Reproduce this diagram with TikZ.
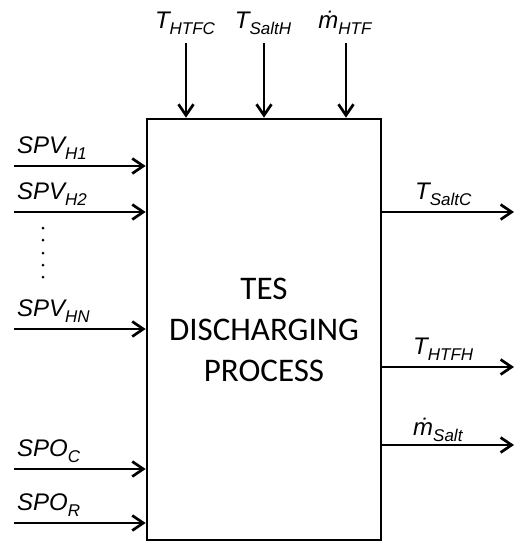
\documentclass[tikz,border=0pt]{standalone}
\usepackage{fontspec}
\setmainfont{Liberation Sans}
\newfontfamily\calib{Carlito}
\usetikzlibrary{arrows.meta}
\newcommand\lbl[2]{\fontsize{24}{24}\selectfont\textit{#1\raisebox{-0.28em}{\fontsize{17}{17}\selectfont #2}}}
\tikzset{
  arr/.style={line width=2.7pt,-{Straight Barb[length=11pt,width=15pt,line width=2.7pt]}},
  lab/.style={inner sep=0pt,anchor=base west},
  toplab/.style={inner sep=0pt,anchor=base},
  dotmark/.style={circle,fill=black,inner sep=0pt,minimum size=3pt}
}
\begin{document}
\begin{tikzpicture}[x=1pt,y=-1pt]
\useasboundingbox (0,0) rectangle (520,550);
\node[draw,line width=2.7pt,minimum width=234pt,minimum height=421pt,inner sep=0pt] (box) at (264,329.5) {};
\node[font=\calib\fontsize{33}{41}\selectfont,align=center] (title) at (264,330) {TES\\DISCHARGING\\PROCESS};
% top inputs
\node[toplab] (tl1) at (185,28) {\lbl{T}{HTFC}};
\node[toplab] (tl2) at (263,28) {\lbl{T}{SaltH}};
\node[toplab] (tl3) at (345,28) {\lbl{ṁ}{HTF}};
\coordinate (t1) at (186,43);
\coordinate (t2) at (264,43);
\coordinate (t3) at (346,43);
\draw[arr] (t1) -- (t1 |- box.north);
\draw[arr] (t2) -- (t2 |- box.north);
\draw[arr] (t3) -- (t3 |- box.north);
% left inputs
\coordinate (l1) at (14,166);
\coordinate (l2) at (14,212);
\coordinate (l3) at (14,329);
\coordinate (l4) at (14,469);
\coordinate (l5) at (14,523);
\node[lab] (ll1) at (17,153) {\lbl{SPV}{H1}};
\node[lab] (ll2) at (17,199) {\lbl{SPV}{H2}};
\node[lab] (ll3) at (17,316) {\lbl{SPV}{HN}};
\node[lab] (ll4) at (17,456) {\lbl{SPO}{C}};
\node[lab] (ll5) at (17,510) {\lbl{SPO}{R}};
\foreach \p in {l1,l2,l3,l4,l5} \draw[arr] (\p) -- (\p -| box.west);
\foreach \y [count=\i] in {228,240,253,265,277} \node[dotmark] (d\i) at (43,\y) {};
% right outputs
\coordinate (r1) at (514,212);
\coordinate (r2) at (514,367);
\coordinate (r3) at (514,445);
\node[lab] (rl1) at (415,199) {\lbl{T}{SaltC}};
\node[lab] (rl2) at (413,354) {\lbl{T}{HTFH}};
\node[lab] (rl3) at (413,435) {\lbl{ṁ}{Salt}};
\foreach \p in {r1,r2,r3} \draw[arr] (\p -| box.east) -- (\p);
\end{tikzpicture}
\end{document}
